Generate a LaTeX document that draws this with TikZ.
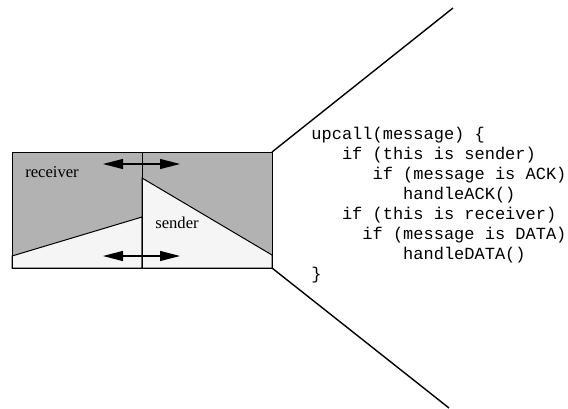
\documentclass[tikz,border=0pt]{standalone}
\usepackage{fontspec}
\setmainfont{Liberation Serif}
\setmonofont{Liberation Mono}
\usetikzlibrary{arrows.meta,positioning}
\definecolor{shade}{gray}{0.70}
\definecolor{pale}{gray}{0.96}
\tikzset{
    frame/.style   = {draw=black, line width=0.5pt},
    darkpart/.style  = {fill=shade},
    lightpart/.style = {fill=pale},
    flow/.style    = {{Triangle[length=10pt,width=5pt]}-{Triangle[length=10pt,width=5pt]}, line width=0.6pt},
    zoomline/.style = {line width=0.7pt},
    role/.style    = {font=\fontsize{8.3pt}{10pt}\selectfont, inner sep=0pt},
    code/.style    = {font=\fontsize{8.5pt}{10pt}\selectfont\ttfamily, align=left, inner sep=0pt}
}
\newcommand{\ind}[1]{\hspace*{#1\fontcharwd\font`x}}

\begin{document}
\begin{tikzpicture}[x=0.5pt, y=-0.5pt]
    \useasboundingbox (0,0) rectangle (568,408);

    % --- Corners of the protocol box ---
    \coordinate (nw) at (12,152);
    \coordinate (ne) at (272,152);
    \coordinate (sw) at (12,268);
    \coordinate (se) at (272,268);
    \coordinate (topmid) at (142,152);
    \coordinate (botmid) at (142,268);

    % --- Shaded halves ---
    \fill[darkpart] (nw) rectangle (se);
    \filldraw[lightpart, frame] (12,256) -- (142,217) -- (botmid) -- (sw) -- cycle;
    \filldraw[lightpart, frame] (142,178) -- (272,255) -- (se) -- (botmid) -- cycle;
    \draw[frame] (nw) rectangle (se);
    \draw[frame] (topmid) -- (botmid);

    % --- Labels ---
    \node[role] (receiver) at (52,172) {receiver};
    \node[role] (sender) at (177,223) {sender};

    % --- Two-way traffic ---
    \coordinate (upL) at (103,164);
    \coordinate (upR) at (180,164);
    \coordinate (dnL) at (103,256);
    \coordinate (dnR) at (180,256);
    \draw[flow] (upL) -- (upR);
    \draw[flow] (dnL) -- (dnR);

    % --- Zoom into the code ---
    \coordinate (farTop) at (453,8);
    \coordinate (farBot) at (449,408);
    \draw[zoomline] (ne) -- (farTop);
    \draw[zoomline] (se) -- (farBot);

    \node[code, anchor=north west] (upcall) at (311,127) {%
        upcall(message) \{\\
        \ind{3}if (this is sender)\\
        \ind{6}if (message is ACK)\\
        \ind{9}handleACK()\\
        \ind{3}if (this is receiver)\\
        \ind{5}if (message is DATA)\\
        \ind{9}handleDATA()\\
        \}};
\end{tikzpicture}
\end{document}
